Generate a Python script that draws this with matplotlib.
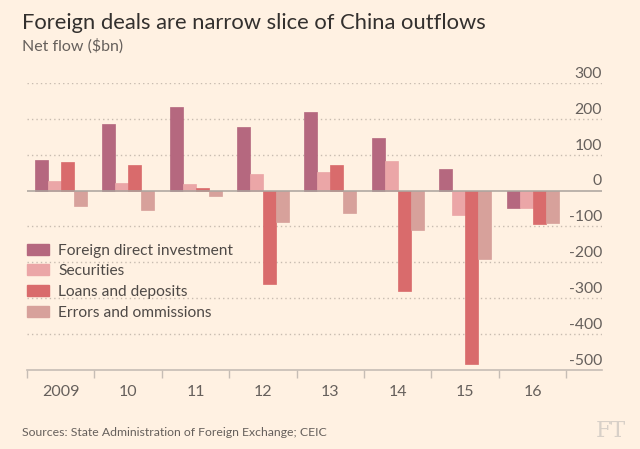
import matplotlib
matplotlib.use("Agg")
import matplotlib.pyplot as plt
import numpy as np
from matplotlib.patches import Patch
import matplotlib.transforms as mtransforms

plt.rcParams['font.family'] = ['Lato', 'DejaVu Sans']

years = ["2009", "10", "11", "12", "13", "14", "15", "16"]
series_names = ["Foreign direct investment", "Securities", "Loans and deposits", "Errors and ommissions"]
fdi = [86, 186, 232, 176, 218, 145, 61, -49]
securities = [26, 22, 19, 47, 52, 81, -68, -48]
loans = [79, 71, 8, -261, 71, -281, -482, -92]
errors = [-43, -55, -16, -89, -64, -109, -190, -90]
colors = ["#b5687f", "#eba6a7", "#d96b6c", "#d7a19b"]
yticks = [300, 200, 100, 0, -100, -200, -300, -400, -500]

BG = "#fff1e2"
fig = plt.figure(figsize=(6.4, 4.49), dpi=100, facecolor=BG)
ax = fig.add_axes([27/640, 1-370/449, 575/640, (370-82.8)/449])
ax.set_facecolor(BG)

x = np.arange(len(years))
w = 0.193
all_series = [fdi, securities, loans, errors]
for i, (vals, c) in enumerate(zip(all_series, colors)):
    ax.bar(x + (i - 1.5) * w, vals, width=w, color=c, edgecolor=c, linewidth=0.5,
           label=series_names[i], zorder=3)

ax.set_xlim(-0.5, 8.03)
ax.set_ylim(-500, 300)

# gridlines
for v in yticks:
    if v == 0:
        ax.axhline(0, color="#a9a29c", lw=1.1, zorder=4)
    elif v != -500:
        ax.axhline(v, color="#c8bcb0", lw=1.0, ls=(0, (1, 2.2)), zorder=1)

# y labels above gridlines at right
trans = mtransforms.blended_transform_factory(ax.transAxes, ax.transData)
for v in yticks:
    ax.annotate(f"{v}" if v >= 0 else f"-{abs(v)}", xy=(1.0, v), xycoords=trans,
                xytext=(0, 1.5), textcoords="offset points", ha="right", va="bottom",
                fontsize=11.3, color="#66605c")

ax.set_yticks([])
for s in ["top", "right", "left"]:
    ax.spines[s].set_visible(False)
ax.spines["bottom"].set_color("#c6bdb5")
ax.spines["bottom"].set_linewidth(1.2)

ax.set_xticks(np.arange(-0.5, 8, 1))
ax.set_xticklabels([])
ax.tick_params(axis="x", length=6, color="#c6bdb5", width=1)
ax.set_xticks(x, minor=True)
ax.set_xticklabels(years, minor=True)
ax.tick_params(axis="x", which="minor", length=0, pad=11, labelsize=11.5, labelcolor="#66605c")

handles = [Patch(facecolor=c, edgecolor=c) for c in colors]
leg = ax.legend(handles, series_names, loc="upper left", bbox_to_anchor=(0.0, 0.44),
                frameon=False, fontsize=11.2, handlelength=1.4, handleheight=0.7,
                handletextpad=0.6, labelspacing=0.43, borderaxespad=0, borderpad=0)
for t in leg.get_texts():
    t.set_color("#4f4a47")

fig.text(22/640, 1-23/449, "Foreign deals are narrow slice of China outflows",
         fontsize=15.8, color="#33302e", va="center", ha="left")
fig.text(22/640, 1-46/449, "Net flow ($bn)", fontsize=11.5, color="#66605c",
         va="center", ha="left")
fig.text(22/640, 1-432/449, "Sources: State Administration of Foreign Exchange; CEIC",
         fontsize=8.8, color="#66605c", va="center", ha="left")
fig.text(626/640, 1-431/449, "FT", fontsize=16, color="#d8d0c8", va="center",
         ha="right", family="DejaVu Serif")

fig.savefig("out.png", dpi=100, facecolor=BG)
